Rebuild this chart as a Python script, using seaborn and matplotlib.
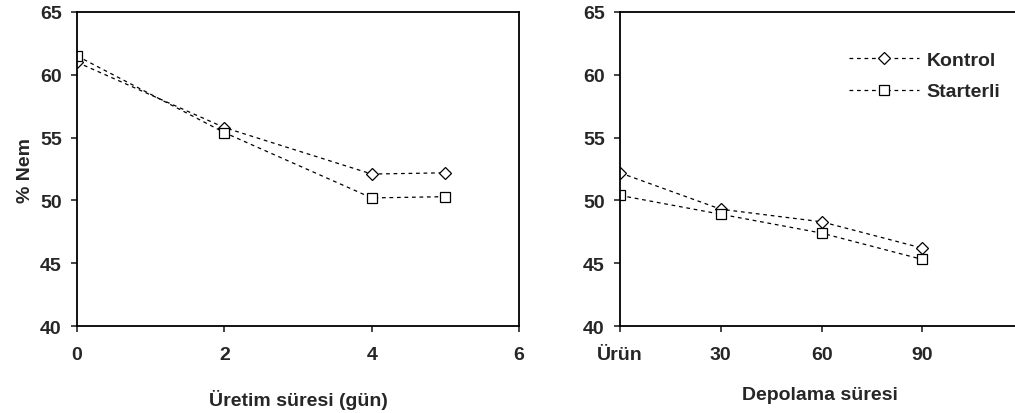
import pandas as pd
import seaborn as sns
import matplotlib.pyplot as plt

# production period (days)
uretim_gun = [0, 2, 4, 5]
uretim_kontrol = [61.0, 55.8, 52.1, 52.2]
uretim_starterli = [61.5, 55.4, 50.2, 50.3]

# storage period
depolama_gun = [0, 30, 60, 90]
depolama_etiket = ["Ürün", "30", "60", "90"]
depolama_kontrol = [52.2, 49.3, 48.3, 46.2]
depolama_starterli = [50.4, 48.9, 47.4, 45.3]

seriler = ["Kontrol", "Starterli"]

sns.set_style("ticks")
plt.rcParams['font.family'] = ['Liberation Sans', 'DejaVu Sans']
plt.rcParams['font.weight'] = 'bold'
plt.rcParams['axes.labelweight'] = 'bold'

FS = 14


def make_df(x, kontrol, starterli):
    return pd.DataFrame({
        'x': list(x) * 2,
        'nem': list(kontrol) + list(starterli),
        'grup': [seriler[0]] * len(x) + [seriler[1]] * len(x),
    })


fig = plt.figure(figsize=(10.15, 4.14), dpi=100)
ax1 = fig.add_axes([0.0759, 0.210, 0.4355, 0.7586])
ax2 = fig.add_axes([0.6108, 0.210, 0.3941, 0.7586])

markers = {"Kontrol": "D", "Starterli": "s"}
sizes = {"Kontrol": 6, "Starterli": 7}

for ax, x, k, s in [(ax1, uretim_gun, uretim_kontrol, uretim_starterli),
                    (ax2, depolama_gun, depolama_kontrol, depolama_starterli)]:
    df = make_df(x, k, s)
    for g in seriler:
        sns.lineplot(data=df[df.grup == g], x='x', y='nem', ax=ax, color='black',
                     linestyle=(0, (3, 3)), linewidth=0.9, marker=markers[g],
                     markersize=sizes[g], markerfacecolor='white',
                     markeredgecolor='black', markeredgewidth=0.9, label=g)
    ax.set_ylim(40, 65)
    ax.set_yticks([40, 45, 50, 55, 60, 65])
    for sp in ax.spines.values():
        sp.set_linewidth(1.3)
        sp.set_color('black')
    ax.tick_params(direction='out', length=4, width=1.2, labelsize=FS)
    ax.tick_params(axis='x', pad=10)
    ax.tick_params(axis='y', pad=7)
    ax.set_ylabel('')
    ax.set_xlabel('')

ax1.set_xlim(0, 6)
ax1.set_xticks([0, 2, 4, 6])
ax1.set_ylabel('% Nem', fontsize=FS, labelpad=4)
ax1.set_xlabel('Üretim süresi (gün)', fontsize=FS)
ax1.xaxis.set_label_coords(0.5, -0.2)
ax1.get_legend().remove()

ax2.set_xlim(0, 119)
ax2.set_xticks(depolama_gun)
ax2.set_xticklabels(depolama_etiket)
ax2.set_xlabel('Depolama süresi', fontsize=FS)
ax2.xaxis.set_label_coords(0.5, -0.19)
ax2.legend(loc='upper right', bbox_to_anchor=(0.995, 0.93), frameon=False,
           fontsize=FS, handlelength=3.6, labelspacing=0.7, handletextpad=0.4)

fig.savefig('out.png', dpi=100)
